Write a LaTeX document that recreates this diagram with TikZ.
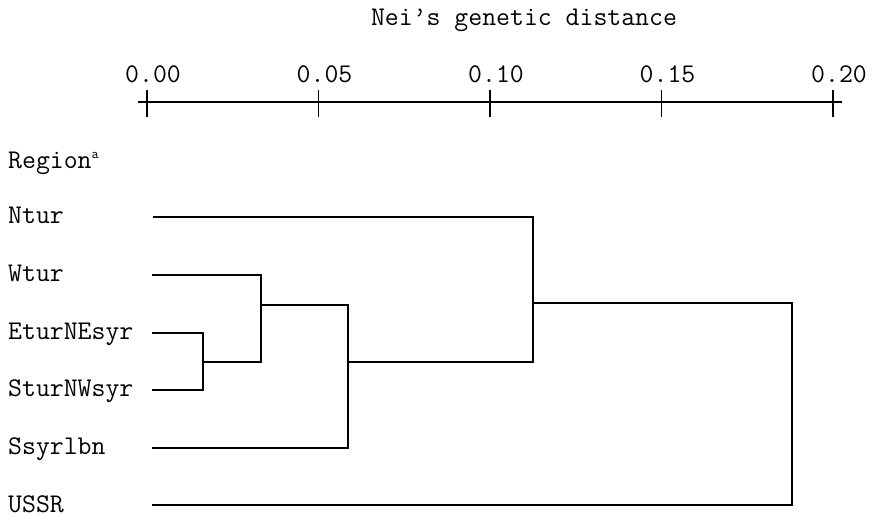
\documentclass[tikz,border=0pt]{standalone}
\usepackage{fontspec}
\begin{document}
\begin{tikzpicture}[x=1pt,y=-1pt,
  txt/.style={font=\ttfamily\fontsize{27}{30}\selectfont, inner sep=0pt, anchor=base west},
  ticklbl/.style={font=\ttfamily\fontsize{27}{30}\selectfont, inner sep=0pt, anchor=base},
  branch/.style={line width=1.6pt, line join=miter},
  axisline/.style={line width=1.6pt}]
\useasboundingbox (0,0) rectangle (874,517);
% title
\node[ticklbl] (title) at (524,25) {Nei’s genetic distance};
% axis
\coordinate (axL) at (138,102);
\coordinate (axR) at (842,102);
\draw[axisline] (axL) -- (axR);
\foreach \n/\x/\l in {t0/147/0.00, t1/318.5/0.05, t2/490/0.10, t3/661.5/0.15, t4/833/0.20}{
  \coordinate (\n) at (\x,102);
  \draw[axisline] (\n) ++(0,-12) -- ++(0,27);
  \node[ticklbl] (\n lbl) at (\x+6,82) {\l};
}
% leaf labels
\node[txt] (region) at (8,168) {Region\raisebox{0.36em}{\fontsize{14}{15}\selectfont a}};
\node[txt] (ntur) at (8,223) {Ntur};
\node[txt] (wtur) at (8,281) {Wtur};
\node[txt] (etur) at (8,339) {EturNEsyr};
\node[txt] (stur) at (8,396) {SturNWsyr};
\node[txt] (ssyr) at (8,454) {Ssyrlbn};
\node[txt] (ussr) at (8,512) {USSR};
% leaf starts
\coordinate (lN) at (153,217);
\coordinate (lW) at (152,275);
\coordinate (lE) at (152,333);
\coordinate (lS) at (152,390);
\coordinate (lSs) at (152,448);
\coordinate (lU) at (152,505);
% joins
\coordinate (jA) at (203,362);
\coordinate (jB) at (261,305);
\coordinate (jC) at (348,362);
\coordinate (jD) at (533,303);
\coordinate (jE) at (792,404);
% branches
\draw[branch] (lE) -| (jA) |- (lS);
\draw[branch] (lW) -| (jB) |- (jA);
\draw[branch] (jB) -| (jC) |- (lSs);
\draw[branch] (lN) -| (jD) |- (jC);
\draw[branch] (jD) -| (jE) |- (lU);
\end{tikzpicture}
\end{document}
